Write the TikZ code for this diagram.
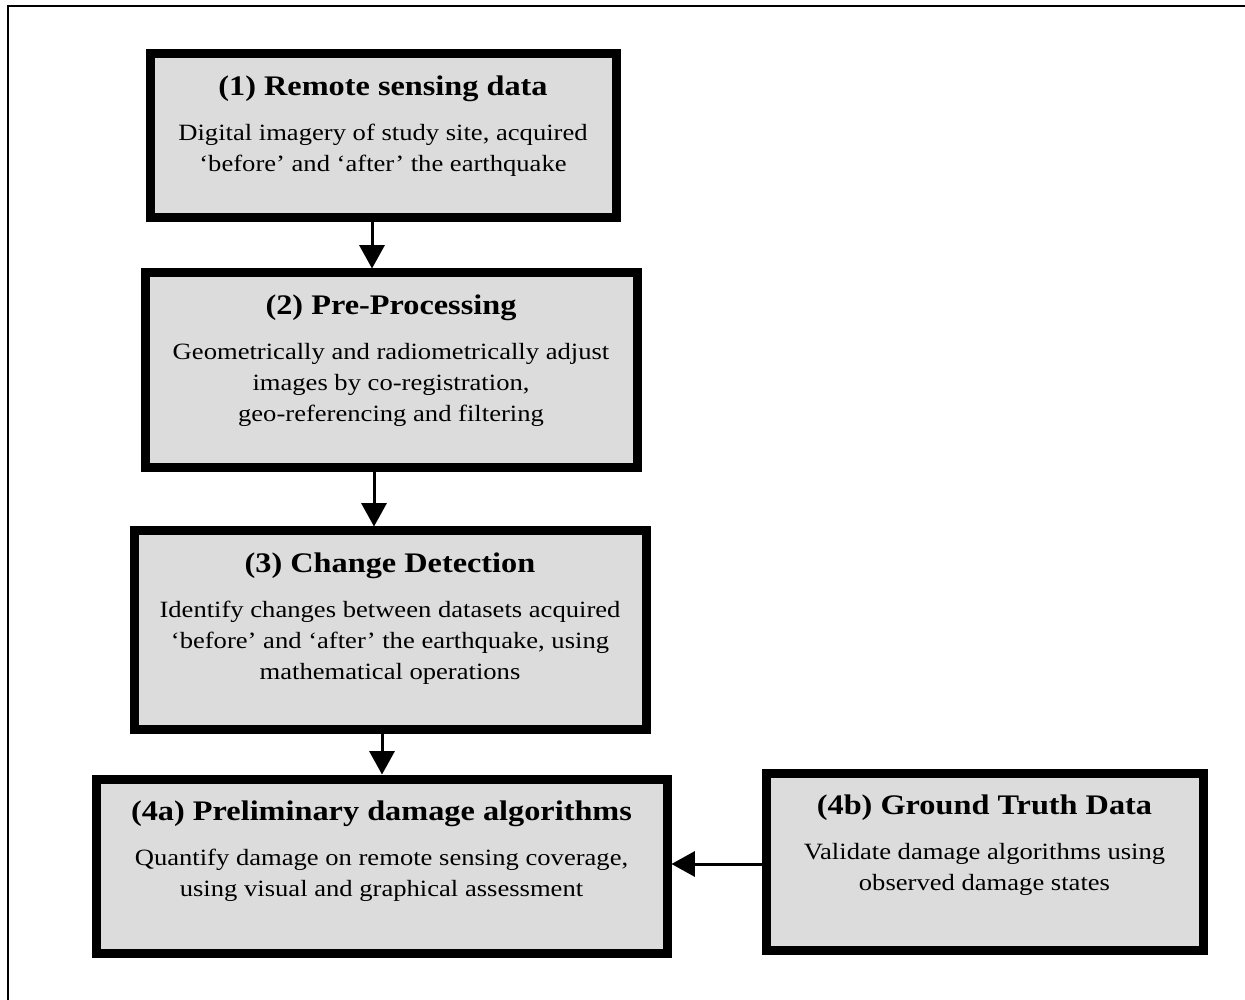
\documentclass[tikz,border=0pt]{standalone}
\usepackage{fontspec}
\setmainfont[FakeStretch=1.14]{Liberation Serif}
\usetikzlibrary{arrows.meta}
\definecolor{boxgray}{RGB}{220,220,220}
% box content: height, width, title, text
\newcommand{\stagebody}[4]{%
  \parbox[t][#1][t]{#2}{\centering\vspace*{13pt}%
    {\fontsize{17}{20}\selectfont\bfseries #3\par}\vspace{8.8pt}%
    \fontsize{14}{18.6}\selectfont #4}}
\tikzset{
    %Define style for boxes
    stage/.style={
           rectangle,
           draw=black,
           line width=5.4pt,
           fill=boxgray,
           inner sep=0pt},
    % Define arrow style
    flow/.style={
           -{Triangle[length=14pt,width=15pt]},
           line width=1.8pt},
    frame/.style={
           draw=black,
           line width=1.2pt}
}
\begin{document}
\begin{tikzpicture}[x=0.6pt,y=-0.6pt]
\useasboundingbox (0,0) rectangle (1245,1000);
\clip (0,0) rectangle (1245,1000);
\draw[frame] (8,1020) |- (1260,6);

 %boxes
\node[stage](rs) at (383,136)
  {\stagebody{98.4pt}{279.6pt}{(1) Remote sensing data}
   {Digital imagery of study site, acquired\\ `before' and `after' the earthquake}};
\node[stage](pp) at (391,370.5)
  {\stagebody{117pt}{295.2pt}{(2) Pre-Processing}
   {Geometrically and radiometrically adjust\\ images by co-registration,\\ geo-referencing and filtering}};
\node[stage](cd) at (390,630.5)
  {\stagebody{119.4pt}{307.2pt}{(3) Change Detection}
   {Identify changes between datasets acquired\\ `before' and `after' the earthquake, using\\ mathematical operations}};
\node[stage](pda) at (381.5,866)
  {\stagebody{104.4pt}{342.6pt}{(4a) Preliminary damage algorithms}
   {Quantify damage on remote sensing coverage,\\ using visual and graphical assessment}};
\node[stage](gt) at (984.5,861.5)
  {\stagebody{106.2pt}{262.2pt}{(4b) Ground Truth Data}
   {Validate damage algorithms using\\ observed damage states}};

 %arrows
\draw[flow] ([xshift=-6.6pt]rs.south) coordinate (a1) -- (a1 |- pp.north);
\draw[flow] ([xshift=-10.2pt]pp.south) coordinate (a2) -- (a2 |- cd.north);
\draw[flow] ([xshift=-4.8pt]cd.south) coordinate (a3) -- (a3 |- pda.north);
\draw[flow] ([yshift=-1.5pt]gt.west) coordinate (a4) -- (a4 -| pda.east);

\end{tikzpicture}
\end{document}
